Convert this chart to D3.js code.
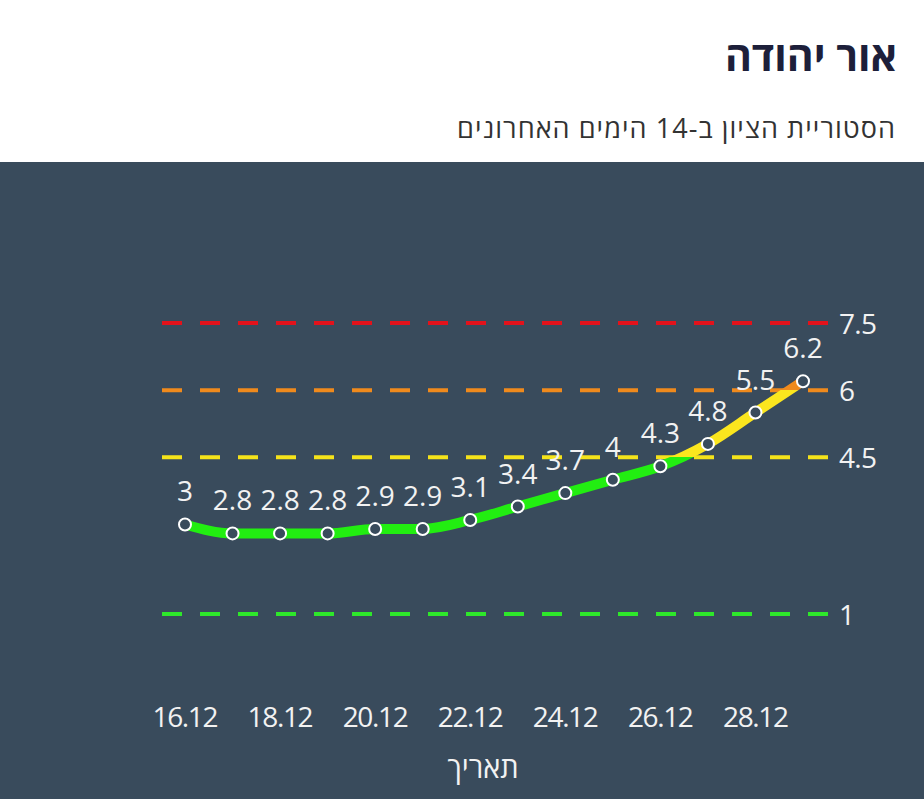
<!DOCTYPE html>
<html>
<head>
<meta charset="utf-8">
<script src="https://cdn.jsdelivr.net/npm/d3@7"></script>
<style>
  body { margin: 0; background: #fff; }
  text { font-family: "Open Sans", "Noto Sans", sans-serif; }
</style>
</head>
<body>
<div id="chart"></div>
<script>
const dates = ['16.12','17.12','18.12','19.12','20.12','21.12','22.12','23.12','24.12','25.12','26.12','27.12','28.12','29.12'];
const scores = [3, 2.8, 2.8, 2.8, 2.9, 2.9, 3.1, 3.4, 3.7, 4, 4.3, 4.8, 5.5, 6.2];
const tickLabels = ['16.12','18.12','20.12','22.12','24.12','26.12','28.12'];
const thresholds = [7.5, 6, 4.5, 1];
const thresholdColors = ['#e3121b', '#f08a1c', '#f5e31a', '#2ee82a'];

const W = 924, H = 799;
const svg = d3.select('#chart').append('svg')
  .attr('width', W)
  .attr('height', H);

// header (rtl: anchor start = right edge)
svg.append('text')
  .attr('x', 897).attr('y', 71)
  .attr('direction', 'rtl')
  .attr('text-anchor', 'start')
  .attr('font-size', 41)
  .attr('font-weight', 'bold')
  .attr('fill', '#1d1f3a')
  .text('אור יהודה');

svg.append('text')
  .attr('x', 895).attr('y', 138)
  .attr('direction', 'rtl')
  .attr('text-anchor', 'start')
  .attr('font-size', 27)
  .attr('textLength', 438)
  .attr('fill', '#333')
  .text('הסטוריית הציון ב-14 הימים האחרונים');

// dark panel
svg.append('rect')
  .attr('x', 0).attr('y', 162)
  .attr('width', W).attr('height', H - 162)
  .attr('fill', '#394b5c');

const x = d3.scalePoint()
  .domain(dates)
  .range([185, 803]);

const y = d3.scaleLinear()
  .domain([1, 7.5])
  .range([614, 323]);

// threshold lines
const g = svg.append('g');
g.selectAll('.thr')
  .data(thresholds)
  .enter().append('line')
    .attr('class', 'thr')
    .attr('x1', 162).attr('x2', 828)
    .attr('y1', d => y(d)).attr('y2', d => y(d))
    .attr('stroke', (d, i) => thresholdColors[i])
    .attr('stroke-width', 4)
    .attr('stroke-dasharray', '20 18');

g.selectAll('.thr-label')
  .data(thresholds)
  .enter().append('text')
    .attr('class', 'thr-label')
    .attr('x', 839)
    .attr('y', d => y(d) + 11)
    .attr('font-size', 28)
    .attr('textLength', d => String(d).length === 1 ? 15 : 38)
    .attr('fill', '#f2f2f2')
    .text(d => d);

// gradient so line changes colour at thresholds
const defs = svg.append('defs');
const grad = defs.append('linearGradient')
  .attr('id', 'lineGrad')
  .attr('gradientUnits', 'userSpaceOnUse')
  .attr('x1', 0).attr('x2', 0)
  .attr('y1', y(1)).attr('y2', y(7.5));
const f45 = (4.5 - 1) / 6.5, f6 = (6 - 1) / 6.5;
[[0, '#22ee11'], [f45, '#22ee11'], [f45, '#fbe61e'],
 [f6, '#fbe61e'], [f6, thresholdColors[1]], [1, thresholdColors[1]]]
  .forEach(s => grad.append('stop').attr('offset', s[0]).attr('stop-color', s[1]));

const line = d3.line()
  .x((d, i) => x(dates[i]))
  .y(d => y(d))
  .curve(d3.curveMonotoneX);

g.append('path')
  .attr('d', line(scores))
  .attr('fill', 'none')
  .attr('stroke', 'url(#lineGrad)')
  .attr('stroke-width', 10)
  .attr('stroke-linecap', 'round');

g.selectAll('.dot')
  .data(scores)
  .enter().append('circle')
    .attr('class', 'dot')
    .attr('cx', (d, i) => x(dates[i]))
    .attr('cy', d => y(d))
    .attr('r', 6)
    .attr('fill', '#394b5c')
    .attr('stroke', '#fff')
    .attr('stroke-width', 2);

g.selectAll('.val')
  .data(scores)
  .enter().append('text')
    .attr('class', 'val')
    .attr('x', (d, i) => x(dates[i]))
    .attr('y', d => y(d) - 23)
    .attr('text-anchor', 'middle')
    .attr('font-size', 28)
    .attr('fill', '#f2f2f2')
    .text(d => d);

// x axis
const xAxis = d3.axisBottom(x)
  .tickValues(tickLabels)
  .tickSize(0)
  .tickPadding(0);
const ax = svg.append('g')
  .attr('transform', 'translate(0,727)')
  .call(xAxis);
ax.select('.domain').remove();
ax.selectAll('.tick text')
  .attr('font-family', '"Open Sans", "Noto Sans", sans-serif')
  .attr('font-size', 28)
  .attr('textLength', 66)
  .attr('fill', '#f2f2f2')
  .attr('dy', 0);

svg.append('text')
  .attr('x', 483).attr('y', 778)
  .attr('text-anchor', 'middle')
  .attr('direction', 'rtl')
  .attr('font-size', 29)
  .attr('fill', '#f2f2f2')
  .text('תאריך');
</script>
</body>
</html>
